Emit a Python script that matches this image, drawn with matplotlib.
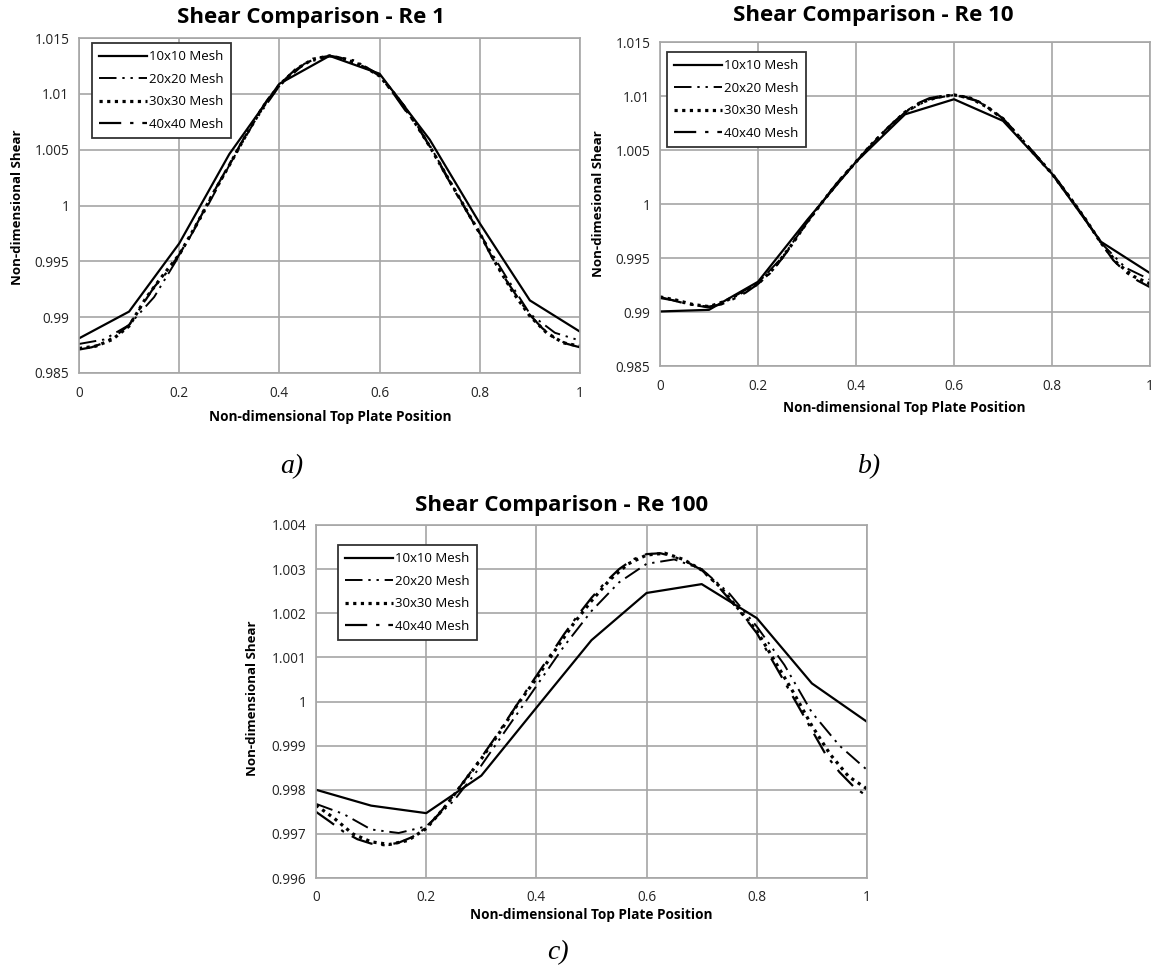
from __future__ import annotations

import matplotlib

matplotlib.use("Agg")

import matplotlib.pyplot as plt
import numpy as np
from matplotlib.ticker import FuncFormatter, MultipleLocator

# ---- data ------------------------------------------------------------------
MESH_LABELS = ["10x10 Mesh", "20x20 Mesh", "30x30 Mesh", "40x40 Mesh"]

RE1_10 = [0.9881, 0.9905, 0.9966, 1.0046, 1.0109, 1.0134, 1.0118, 1.0059, 0.9984, 0.9915, 0.9887]
RE1_20 = [0.9876, 0.9880, 0.9893, 0.9918, 0.9955, 0.9994, 1.0036, 1.0075, 1.0107, 1.0127, 1.0134,
          1.0130, 1.0117, 1.0089, 1.0054, 1.0014, 0.9975, 0.9938, 0.9903, 0.9886, 0.9879]
RE1_30 = [0.9872, 0.9874, 0.9880, 0.9892, 0.9917, 0.9937, 0.9956, 0.9982, 1.0010, 1.0036, 1.0063,
          1.0088, 1.0108, 1.0122, 1.0131, 1.0134, 1.0131, 1.0125, 1.0116, 1.0098, 1.0077, 1.0053,
          1.0027, 1.0001, 0.9975, 0.9947, 0.9922, 0.9901, 0.9886, 0.9877, 0.9874]
RE1_40 = [0.9871, 0.9873, 0.9877, 0.9884, 0.9893, 0.9910, 0.9927, 0.9940, 0.9956, 0.9975, 0.9996,
          1.0017, 1.0037, 1.0057, 1.0076, 1.0094, 1.0108, 1.0119, 1.0127, 1.0132, 1.0134, 1.0132,
          1.0128, 1.0123, 1.0116, 1.0102, 1.0086, 1.0071, 1.0053, 1.0033, 1.0013, 0.9994, 0.9975,
          0.9953, 0.9935, 0.9918, 0.9902, 0.9890, 0.9881, 0.9876, 0.9873]

RE10_10 = [0.99005, 0.9902, 0.9928, 0.9985, 1.0039, 1.0083, 1.0097, 1.0077, 1.0028, 0.9965, 0.9936]
RE10_20 = [0.9914, 0.9908, 0.9904, 0.9914, 0.9927, 0.9951, 0.9983, 1.0013, 1.0039, 1.0064, 1.0085,
           1.0097, 1.0101, 1.0095, 1.0079, 1.0054, 1.0029, 0.9998, 0.9964, 0.9941, 0.9930]
RE10_30 = [0.9914, 0.9911, 0.9907, 0.9905, 0.9910, 0.9918, 0.9926, 0.9941, 0.9961, 0.9983, 1.0003,
           1.0022, 1.0039, 1.0056, 1.0071, 1.0085, 1.0094, 1.0099, 1.0101, 1.0098, 1.0090, 1.0079,
           1.0062, 1.0045, 1.0028, 1.0008, 0.9987, 0.9964, 0.9945, 0.9933, 0.9926]
RE10_40 = [0.9913, 0.9911, 0.9908, 0.9906, 0.9905, 0.9907, 0.9912, 0.9918, 0.9926, 0.9936, 0.9950,
           0.9966, 0.9983, 0.9998, 1.0013, 1.0027, 1.0039, 1.0052, 1.0064, 1.0075, 1.0085, 1.0093,
           1.0098, 1.0100, 1.0101, 1.0099, 1.0095, 1.0088, 1.0079, 1.0067, 1.0054, 1.0041, 1.0028,
           1.0013, 0.9998, 0.9981, 0.9964, 0.9948, 0.9937, 0.9929, 0.9923]

RE100_10 = [0.99800, 0.99764, 0.99747, 0.99832, 0.99986, 1.00139, 1.00246, 1.00266, 1.00189,
            1.00041, 0.99954]
RE100_20 = [0.99768, 0.99745, 0.99710, 0.99702, 0.99717, 0.99775, 0.99855, 0.99945, 1.00035,
            1.00125, 1.00205, 1.00270, 1.00312, 1.00322, 1.00300, 1.00245, 1.00170, 1.00083,
            0.99975, 0.99900, 0.99845]
RE100_30 = [0.99765, 0.99735, 0.99700, 0.99682, 0.99676, 0.99685, 0.99712, 0.99760, 0.99815,
            0.99870, 0.99930, 0.99995, 1.00052, 1.00115, 1.00175, 1.00228, 1.00276, 1.00312,
            1.00332, 1.00336, 1.00322, 1.00298, 1.00260, 1.00210, 1.00160, 1.00090, 1.00020,
            0.99945, 0.99880, 0.99830, 0.99802]
RE100_40 = [0.99750, 0.99728, 0.99705, 0.99688, 0.99678, 0.99674, 0.99680, 0.99693, 0.99714,
            0.99748, 0.99788, 0.99830, 0.99873, 0.99918, 0.99965, 1.00012, 1.00058, 1.00105,
            1.00152, 1.00195, 1.00235, 1.00270, 1.00300, 1.00322, 1.00334, 1.00336, 1.00328,
            1.00315, 1.00298, 1.00268, 1.00232, 1.00195, 1.00155, 1.00100, 1.00045, 0.99990,
            0.99935, 0.99880, 0.99840, 0.99808, 0.99785]

# ---- layout / style --------------------------------------------------------
W, H = 1154, 968
FONT = "Open Sans"
GRID_COLOR = "#a6a6a6"

STYLES = [
    dict(color="black", linewidth=1.6, linestyle="-"),
    dict(color="black", linewidth=1.4, linestyle=(0, (9, 3, 1.2, 3, 1.2, 3))),
    dict(color="black", linewidth=2.3, linestyle=(0, (1, 1.4))),
    dict(color="black", linewidth=1.6, linestyle=(0, (10, 4, 1.5, 4))),
]

PANELS = [
    dict(
        rect=(79, 38, 580, 373),
        series=[RE1_10, RE1_20, RE1_30, RE1_40],
        ylim=(0.985, 1.015), ystep=0.005,
        title="Shear Comparison - Re 1", title_xy=(311, 18),
        ylabel="Non-dimensional Shear", ylabel_xy=(18, 207),
        xlabel_xy=(330, 417), tick_y=393,
        legend_xy=(92, 43),
        tag="a)", tag_xy=(292, 467),
    ),
    dict(
        rect=(660, 42, 1150, 366),
        series=[RE10_10, RE10_20, RE10_30, RE10_40],
        ylim=(0.985, 1.015), ystep=0.005,
        title="Shear Comparison - Re 10", title_xy=(873, 15),
        ylabel="Non-dimesional Shear", ylabel_xy=(598, 204),
        xlabel_xy=(904, 408), tick_y=386,
        legend_xy=(667, 52),
        tag="b)", tag_xy=(870, 467),
    ),
    dict(
        rect=(316, 525, 867, 878),
        series=[RE100_10, RE100_20, RE100_30, RE100_40],
        ylim=(0.996, 1.004), ystep=0.001,
        title="Shear Comparison - Re 100", title_xy=(562, 505),
        ylabel="Non-dimensional Shear", ylabel_xy=(252, 698),
        xlabel_xy=(591, 915), tick_y=897,
        legend_xy=(338, 545),
        tag="c)", tag_xy=(558, 953),
    ),
]


def _fx(px: float) -> float:
    return px / W


def _fy(py: float) -> float:
    return 1 - py / H


def _fmt(v: float, _pos=None) -> str:
    return f"{round(v, 6):g}"


def draw_panel(fig: plt.Figure, spec: dict) -> None:
    x0, y0, x1, y1 = spec["rect"]
    ax = fig.add_axes([_fx(x0), _fy(y1), (x1 - x0) / W, (y1 - y0) / H])

    for values, label, style in zip(spec["series"], MESH_LABELS, STYLES):
        xs = np.linspace(0, 1, len(values))
        ax.plot(xs, values, label=label, **style)

    ax.set_xlim(0, 1)
    ax.set_ylim(*spec["ylim"])
    ax.xaxis.set_major_locator(MultipleLocator(0.2))
    ax.yaxis.set_major_locator(MultipleLocator(spec["ystep"]))
    ax.xaxis.set_major_formatter(FuncFormatter(_fmt))
    ax.yaxis.set_major_formatter(FuncFormatter(_fmt))
    ax.grid(True, color=GRID_COLOR, linewidth=1.2)
    ax.set_axisbelow(True)
    for spine in ax.spines.values():
        spine.set_color(GRID_COLOR)
        spine.set_linewidth(1.2)
    ax.tick_params(length=0, labelsize=9.8, colors="#222222")
    ax.tick_params(axis="y", pad=7)
    ax.tick_params(axis="x", pad=(spec["tick_y"] - y1) * 72 / 100 - 5)
    for lab in ax.get_xticklabels() + ax.get_yticklabels():
        lab.set_fontfamily(FONT)

    leg = ax.legend(
        loc="upper left",
        bbox_to_anchor=(_fx(spec["legend_xy"][0]), _fy(spec["legend_xy"][1])),
        bbox_transform=fig.transFigure,
        prop=dict(family=FONT, size=9.5),
        handlelength=3.6,
        handletextpad=0.2,
        labelspacing=0.72,
        borderpad=0.55,
        borderaxespad=0,
        fancybox=False,
        framealpha=1,
    )
    leg.get_frame().set_edgecolor("#333333")
    leg.get_frame().set_linewidth(1.3)

    fig.text(_fx(spec["title_xy"][0]), _fy(spec["title_xy"][1]), spec["title"],
             ha="center", va="center", fontsize=16, fontweight="bold", family=FONT)
    fig.text(_fx(spec["ylabel_xy"][0]), _fy(spec["ylabel_xy"][1]), spec["ylabel"],
             ha="center", va="center", rotation=90, fontsize=9.5, fontweight="bold", family=FONT)
    fig.text(_fx(spec["xlabel_xy"][0]), _fy(spec["xlabel_xy"][1]),
             "Non-dimensional Top Plate Position",
             ha="center", va="center", fontsize=9.8, fontweight="bold", family=FONT)
    fig.text(_fx(spec["tag_xy"][0]), _fy(spec["tag_xy"][1]), spec["tag"],
             ha="center", va="center", fontsize=20, style="italic", family="Liberation Serif")


def main() -> None:
    fig = plt.figure(figsize=(W / 100, H / 100), dpi=100)
    fig.patch.set_facecolor("white")
    for spec in PANELS:
        draw_panel(fig, spec)
    fig.savefig("out.png", dpi=100, facecolor="white")
    plt.close(fig)


if __name__ == "__main__":
    main()
